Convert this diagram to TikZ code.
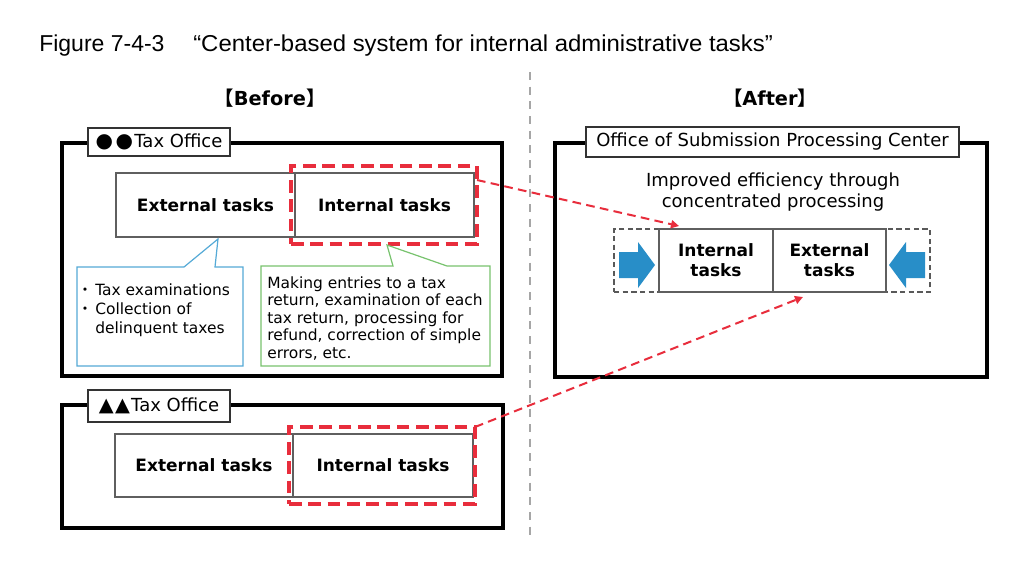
\documentclass[tikz,border=0pt]{standalone}
\usepackage{fontspec}
\setmainfont{DejaVu Sans}
\newfontfamily\cjk{Noto Sans CJK JP}
\newfontfamily\titlefont{Liberation Sans}
\usetikzlibrary{fit,arrows.meta}
\definecolor{redd}{RGB}{232,45,60}
\definecolor{blueline}{RGB}{85,170,215}
\definecolor{greenline}{RGB}{120,195,110}
\definecolor{bluefill}{RGB}{40,142,200}
\definecolor{taskline}{RGB}{95,95,95}
\begin{document}
\begin{tikzpicture}[x=0.75pt,y=-0.75pt,
  bigbox/.style={draw=black, line width=2.6pt, inner sep=0pt},
  labelbox/.style={draw=black!80, line width=0.9pt, fill=white, inner sep=0pt, font=\fontsize{13.5}{16}\selectfont},
  taskbox/.style={draw=taskline, line width=1.1pt, fill=white, inner sep=0pt, align=center, font=\bfseries\fontsize{12.75}{15}\selectfont},
  reddash/.style={draw=redd, line width=2.3pt, dash pattern=on 9.5pt off 5pt, inner sep=0pt},
  graydash/.style={draw=black!65, line width=1.1pt, dash pattern=on 4pt off 2.5pt, inner sep=0pt},
  redarrow/.style={draw=redd, line width=1.5pt, dash pattern=on 6.5pt off 4pt, -{Triangle[length=6pt,width=6pt]}},
  divider/.style={draw=black!35, line width=1.1pt, dash pattern=on 6pt off 5pt},
  heading/.style={font=\bfseries\fontsize{14.5}{17}\selectfont, inner sep=0pt},
  calltext/.style={anchor=base west, align=left, inner sep=0pt},
  bluearrow/.style={fill=bluefill}
]
\fill[white] (0,0) rectangle (1024,569);
\useasboundingbox (0,0) rectangle (1024,569);

% title
\node[anchor=base west, inner sep=0pt, font=\titlefont\fontsize{17.25}{20}\selectfont] (fig) at (39,51) {Figure 7-4-3};
\node[anchor=base west, inner sep=0pt, font=\titlefont\fontsize{17.25}{20}\selectfont] (cap) at (193,51) {\scalebox{1.04}[1]{“Center-based system for internal administrative tasks”}};

% divider
\coordinate (dtop) at (530,72);
\coordinate (dbot) at (530,535);
\draw[divider] (dtop) -- (dbot);

% headings
\node[heading] (before) at (270,98) {{\cjk 【}Before{\cjk 】}};
\node[heading] (after) at (770,98) {{\cjk 【}After{\cjk 】}};

% big boxes
\node[bigbox, fit={(62,143) (502,376)}] (b1) {};
\node[bigbox, fit={(555,143) (987,377)}] (b2) {};
\node[bigbox, fit={(62,405) (503,528)}] (b3) {};

% labels
\node[labelbox, minimum width=106.5pt, minimum height=21pt] (l1) at (159,142) {{\fontsize{15}{16}\selectfont●\hspace{2pt}●}\hspace{1pt}Tax Office};
\node[labelbox, minimum width=279.75pt, minimum height=22.5pt] (l2) at (772.5,142) {Office of Submission Processing Center};
\node[labelbox, minimum width=106.5pt, minimum height=24pt] (l3) at (159,406) {{\fontsize{14.5}{16}\selectfont▲\hspace{1pt}▲}\hspace{1pt}Tax Office};

% task boxes, before
\node[taskbox, minimum width=134.25pt, minimum height=48pt] (e1) at (205.5,205) {External tasks};
\node[taskbox, minimum width=134.25pt, minimum height=48pt] (i1) at (384.5,205) {Internal tasks};
\node[taskbox, minimum width=133.5pt, minimum height=47.25pt] (e3) at (204,465.5) {External tasks};
\node[taskbox, minimum width=135pt, minimum height=47.25pt] (i3) at (383,465.5) {Internal tasks};
\node[reddash, fit={(291,166) (477,244)}] (r1) {};
\node[reddash, fit={(289,427) (475,504)}] (r3) {};

% after
\node[align=center, inner sep=0pt, font=\fontsize{13.5}{15.75}\selectfont] (imp) at (773,192.5) {Improved efficiency through\\concentrated processing};
\node[graydash, fit={(614,229) (930,292)}] (gd) {};
\node[taskbox, minimum width=85.5pt, minimum height=47.25pt] (i2) at (716,260.5) {Internal\\tasks};
\node[taskbox, minimum width=84.75pt, minimum height=47.25pt] (e2) at (829.5,260.5) {External\\tasks};
\fill[bluearrow] (619,252) -- (638,252) -- (638,242) -- (655,265) -- (638,288) -- (638,278) -- (619,278) -- cycle;
\fill[bluearrow] (925,252) -- (906,252) -- (906,242) -- (889,265) -- (906,288) -- (906,278) -- (925,278) -- cycle;

% callouts
\draw[blueline, line width=0.9pt] (77,267) -- (184,267) -- (218,239) -- (215,267) -- (243,267) -- (243,366) -- (77,366) -- cycle;
\node[calltext, font=\fontsize{11.6}{14.2}\selectfont] (bt) at (77,333.5) {\makebox[13.5pt][l]{\cjk ・}Tax examinations\\\makebox[13.5pt][l]{\cjk ・}Collection of\\\hspace*{13.5pt}delinquent taxes};
\draw[greenline, line width=0.9pt] (261,266) -- (393,266) -- (387,245) -- (447,266) -- (490,266) -- (490,366) -- (261,366) -- cycle;
\node[calltext, font=\fontsize{11.6}{13.2}\selectfont] (gt) at (267,358.5) {Making entries to a tax\\return, examination of each\\tax return, processing for\\refund, correction of simple\\errors, etc.};

% red arrows
\coordinate (s1) at (477,180);
\coordinate (t1) at (679,226);
\coordinate (s3) at (475,427);
\coordinate (t3) at (803,297);
\draw[redarrow] (s1) -- (t1);
\draw[redarrow] (s3) -- (t3);
\end{tikzpicture}
\end{document}
